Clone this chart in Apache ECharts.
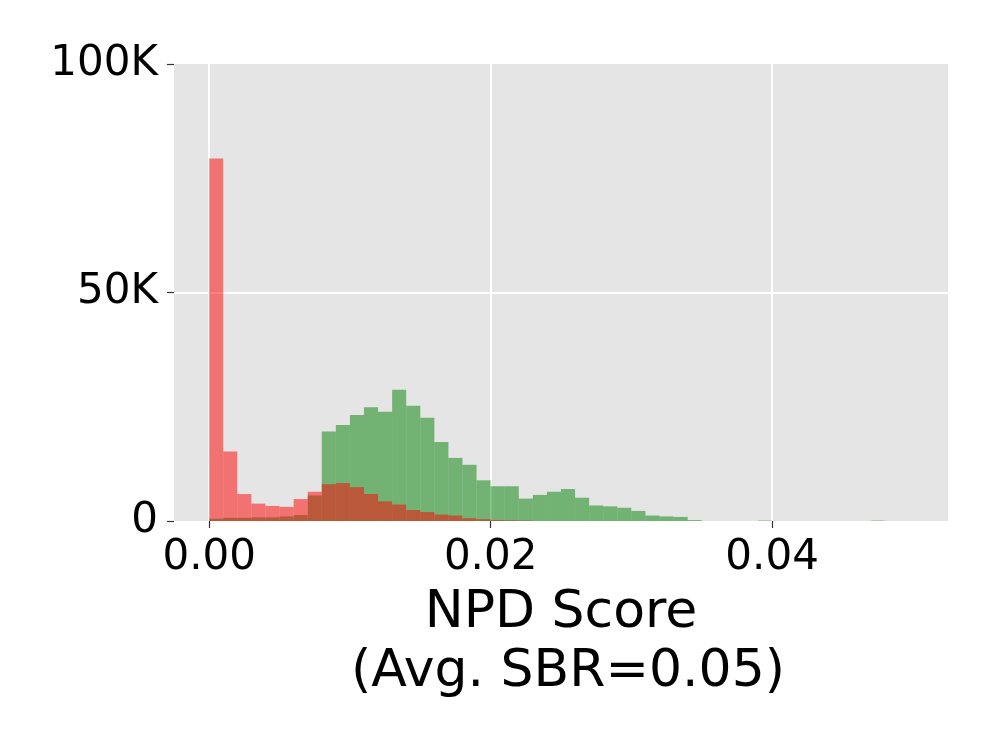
<!DOCTYPE html>
<html>
<head>
<meta charset="utf-8">
<script src="https://cdn.jsdelivr.net/npm/echarts@6/dist/echarts.min.js"></script>
<style>
  html, body { margin: 0; padding: 0; background: #ffffff; }
  #chart { width: 996px; height: 747px; }
</style>
</head>
<body>
<div id="chart"></div>
<script>
// Histogram bin width (NPD score units); bins start at 0
const binWidth = 0.001;
// Counts per bin (in thousands)
const greenCountsK = [
  0.5, 0.7, 0.7, 0.8, 0.8, 1.0, 1.3, 5.6, 19.6, 21.0,
  23.2, 24.9, 23.9, 28.7, 25.2, 22.6, 17.3, 13.8, 12.3, 8.9,
  7.6, 7.6, 4.9, 5.7, 6.4, 7.0, 5.1, 3.4, 3.2, 2.9,
  2.2, 1.2, 1.0, 0.9, 0.2, 0, 0, 0, 0, 0.1,
  0, 0, 0, 0, 0, 0, 0, 0.1, 0, 0
];
const redCountsK = [
  79.3, 15.2, 5.9, 3.8, 3.3, 3.1, 4.8, 6.4, 8.05, 8.3,
  7.4, 5.9, 4.3, 3.6, 2.4, 1.95, 1.4, 1.2, 0.6, 0.4,
  0.2, 0.15, 0.1, 0, 0, 0, 0, 0, 0, 0,
  0, 0, 0, 0, 0, 0, 0, 0, 0, 0,
  0, 0, 0, 0, 0, 0, 0, 0, 0, 0
];
const xTickValues = [0, 0.02, 0.04];
const yTickValues = [0, 50000, 100000];
const xAxisTitleLine1 = 'NPD Score';
const xAxisTitleLine2 = '(Avg. SBR=0.05)';

function toBins(countsK) {
  return countsK.map((c, i) => [i * binWidth, (i + 1) * binWidth, c * 1000]);
}

function makeRender(fill) {
  return function (params, api) {
    const x0 = api.value(0), x1 = api.value(1), h = api.value(2);
    if (!h) return null;
    const pTop = api.coord([x0, h]);
    const pBot = api.coord([x1, 0]);
    return {
      type: 'rect',
      shape: { x: pTop[0], y: pTop[1], width: pBot[0] - pTop[0], height: pBot[1] - pTop[1] },
      style: { fill: fill }
    };
  };
}

const FONT = 'DejaVu Sans';
const chart = echarts.init(document.getElementById('chart'), null, { renderer: 'canvas' });
chart.setOption({
  animation: false,
  backgroundColor: '#ffffff',
  grid: {
    left: 174, right: 48, top: 64, bottom: 226,
    show: true, backgroundColor: '#e5e5e5', borderWidth: 0,
    containLabel: false
  },
  xAxis: {
    type: 'value',
    min: -0.0025, max: 0.0525,
    axisLine: { show: false, onZero: false },
    axisTick: { show: true, customValues: xTickValues, length: 7, lineStyle: { color: '#333333', width: 1.2 } },
    axisLabel: {
      customValues: xTickValues,
      formatter: v => v.toFixed(2),
      fontFamily: FONT, fontSize: 42, color: '#000000', margin: 16
    },
    splitLine: { show: true, lineStyle: { color: '#ffffff', width: 2 } },
    name: '{a|' + xAxisTitleLine1 + '}\n{b|' + xAxisTitleLine2 + '}',
    nameLocation: 'middle',
    nameGap: 62,
    nameTextStyle: {
      fontFamily: FONT, fontSize: 52, color: '#000000', lineHeight: 59, align: 'center',
      rich: {
        a: { fontFamily: FONT, fontSize: 52, color: '#000000', lineHeight: 59 },
        b: { fontFamily: FONT, fontSize: 52, color: '#000000', lineHeight: 59, padding: [0, 0, 0, 14] }
      }
    }
  },
  yAxis: {
    type: 'value',
    min: 0, max: 100000, interval: 50000,
    axisLine: { show: false, onZero: false },
    axisTick: { show: true, length: 7, lineStyle: { color: '#333333', width: 1.2 } },
    axisLabel: {
      formatter: v => (v === 0 ? '0' : (v / 1000) + 'K'),
      fontFamily: FONT, fontSize: 42, color: '#000000', margin: 16
    },
    splitLine: { show: true, showMinLine: false, showMaxLine: false, lineStyle: { color: '#ffffff', width: 2 } }
  },
  series: [
    {
      name: 'green', type: 'custom', renderItem: makeRender('rgba(0,128,0,0.5)'),
      data: toBins(greenCountsK), encode: { x: [0, 1], y: 2 }, z: 2
    },
    {
      name: 'red', type: 'custom', renderItem: makeRender('rgba(255,0,0,0.5)'),
      data: toBins(redCountsK), encode: { x: [0, 1], y: 2 }, z: 3
    }
  ]
});
</script>
</body>
</html>
